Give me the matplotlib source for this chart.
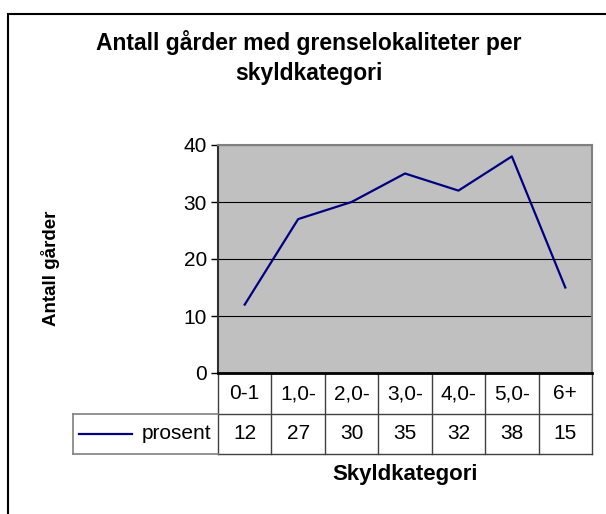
import matplotlib
matplotlib.use("Agg")
import matplotlib.pyplot as plt
import matplotlib.transforms as mtransforms
from matplotlib.patches import Rectangle

# data
categories = ["0-1", "1,0-", "2,0-", "3,0-", "4,0-", "5,0-", "6+"]
prosent = [12, 27, 30, 35, 32, 38, 15]
series_name = "prosent"
y_ticks = [0, 10, 20, 30, 40]
title_lines = ["Antall gårder med grenselokaliteter per", "skyldkategori"]

plt.rcParams['font.family'] = ['Liberation Sans', 'DejaVu Sans']

W, H = 606, 514
fig = plt.figure(figsize=(W / 100, H / 100), dpi=100)


def fx(px):
    return px / W


def fy(py):
    return 1 - py / H


# outer chart frame (runs off the right and bottom edge)
fig.patches.append(Rectangle((fx(8), fy(700)), 1.5, fy(14) - fy(700),
                             transform=fig.transFigure, fill=False,
                             edgecolor='black', lw=1.5))

# title
fig.text(fx(309), fy(50), title_lines[0], ha='center', va='baseline',
         fontsize=16.5, fontweight='bold')
fig.text(fx(309), fy(80), title_lines[1], ha='center', va='baseline',
         fontsize=16.5, fontweight='bold')

ax = fig.add_axes([fx(218), fy(373), fx(592) - fx(218), fy(145) - fy(373)])
ax.set_facecolor('#c0c0c0')
x = list(range(len(categories)))
ax.plot(x, prosent, color='#000080', lw=1.6, zorder=3)
ax.set_xlim(-0.5, len(categories) - 0.5)
ax.set_ylim(0, 40)
ax.set_yticks(y_ticks)
ax.set_xticks([])
ax.yaxis.grid(True, color='black', lw=0.8)
ax.set_axisbelow(True)
ax.tick_params(axis='y', direction='out', length=5, width=1, labelsize=15, pad=3)

ax.spines['left'].set_color('#303030')
ax.spines['left'].set_linewidth(1.5)
ax.spines['bottom'].set_color('black')
ax.spines['bottom'].set_linewidth(2)
for s in ['top', 'right']:
    ax.spines[s].set_color('#808080')
    ax.spines[s].set_linewidth(1.5)

ax.set_ylabel("Antall gårder", fontsize=13.5, fontweight='bold')
ax.yaxis.set_label_coords(-0.422, 0.46)
ax.set_xlabel("Skyldkategori", fontsize=16, fontweight='bold')
ax.xaxis.set_label_coords(0.5, -0.40)

# data table under the plot
tr = mtransforms.blended_transform_factory(ax.transData, ax.transAxes)
n = len(categories)
r1 = -0.18
r2 = -0.355
left = -3.214
lc = '#404040'
for k in range(n + 1):
    ax.plot([k - 0.5, k - 0.5], [0, r2], color=lc, lw=1, transform=tr, clip_on=False)
ax.plot([-0.5, n - 0.5], [r1, r1], color=lc, lw=1, transform=tr, clip_on=False)
ax.plot([-0.5, n - 0.5], [r2, r2], color=lc, lw=1, transform=tr, clip_on=False)
# row label box
ax.plot([left, -0.5], [r1, r1], color='#808080', lw=1.2, transform=tr, clip_on=False)
ax.plot([left, -0.5], [r2, r2], color='#808080', lw=1.2, transform=tr, clip_on=False)
ax.plot([left, left], [r1, r2], color='#808080', lw=1.2, transform=tr, clip_on=False)
ax.plot([-3.10, -2.11], [(r1 + r2) / 2] * 2, color='#000080', lw=1.6,
        transform=tr, clip_on=False)
ax.text(-0.62, (r1 + r2) / 2, series_name, ha='right', va='center',
        fontsize=15, transform=tr)

for i, (c, v) in enumerate(zip(categories, prosent)):
    ax.text(i, r1 / 2, c, ha='center', va='center', fontsize=15, transform=tr)
    ax.text(i, (r1 + r2) / 2, str(v), ha='center', va='center', fontsize=15,
            transform=tr)

fig.savefig("out.png", dpi=100)
